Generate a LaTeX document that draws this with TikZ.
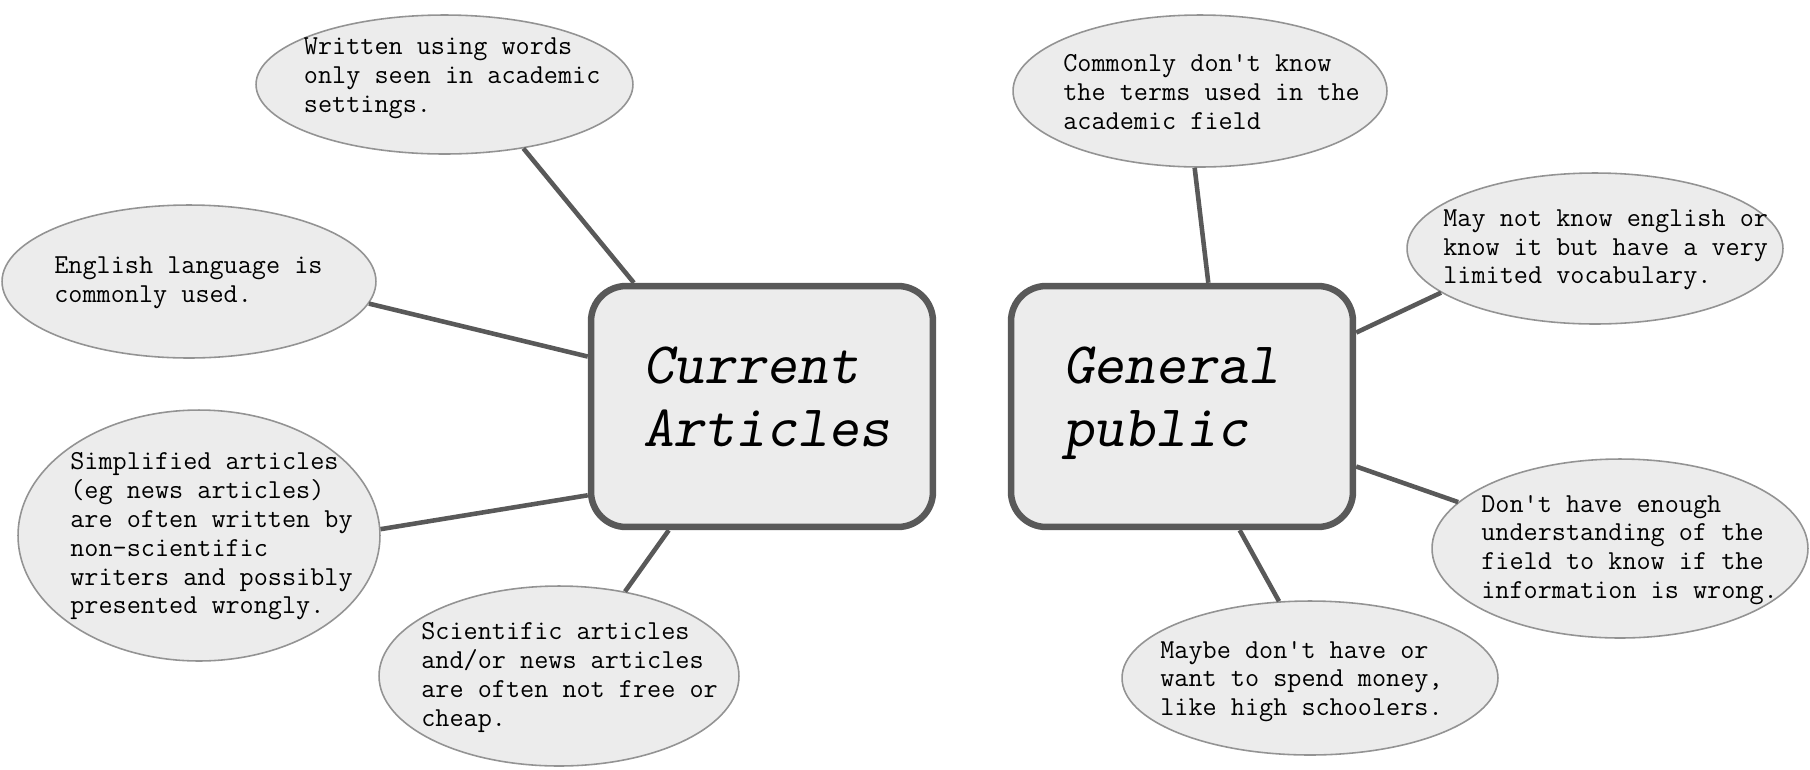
\documentclass[tikz,border=0pt]{standalone}
\usepackage{fontspec}
\usetikzlibrary{shapes.geometric}
\tikzset{
  bubble/.style={ellipse, draw=gray!85, line width=0.9pt, fill=gray!15, inner sep=0pt},
  note/.style={anchor=west, inner sep=0pt, align=left, text=black,
    font=\ttfamily\fontsize{15.6pt}{16.4pt}\selectfont},
  topic/.style={rectangle, rounded corners=20pt, draw=black!65, line width=3.7pt,
    fill=gray!15, minimum width=6.84cm, minimum height=4.82cm, inner xsep=1.04cm,
    text width=4.76cm, text depth=1.65cm, align=left, text=black,
    font=\ttfamily\slshape\fontsize{33.5pt}{35.7pt}\selectfont},
  link/.style={draw=black!65, line width=2.6pt}
}
\begin{document}
\begin{tikzpicture}[x=0.02cm, y=-0.02cm]
  \useasboundingbox (0,0) rectangle (1810,769);

  % the two topics
  \node[topic] (ca) at (762,406.5) {Current\\Articles};
  \node[topic] (gp) at (1182,406.5) {General\\public};

  % bubbles round Current Articles
  \node[bubble, minimum width=7.54cm, minimum height=2.78cm] (ca1) at (444.5,84.5) {};
  \node[bubble, minimum width=7.48cm, minimum height=3.06cm] (ca2) at (189,281.5) {};
  \node[bubble, minimum width=7.24cm, minimum height=5.02cm] (ca3) at (199,535.5) {};
  \node[bubble, minimum width=7.20cm, minimum height=3.60cm] (ca4) at (559,676) {};

  % bubbles round General public
  \node[bubble, minimum width=7.48cm, minimum height=3.04cm] (gp1) at (1200,91) {};
  \node[bubble, minimum width=7.52cm, minimum height=3.02cm] (gp2) at (1595,248.5) {};
  \node[bubble, minimum width=7.52cm, minimum height=3.58cm] (gp3) at (1620,548.5) {};
  \node[bubble, minimum width=7.52cm, minimum height=3.08cm] (gp4) at (1310,678) {};

  % texts in the bubbles
  \node[note] (ca1t) at (303.6,78.5) {Written using words\\only seen in academic\\settings.};
  \node[note] (ca2t) at (54,283) {English language is\\commonly used.};
  \node[note] (ca3t) at (70,536.5) {Simplified articles\\(eg news articles)\\are often written by\\non-scientific\\writers and possibly\\presented wrongly.};
  \node[note] (ca4t) at (421,677.5) {Scientific articles\\and/or news articles\\are often not free or\\cheap.};
  \node[note] (gp1t) at (1063,92.3) {Commonly don't know\\the terms used in the\\academic field};
  \node[note] (gp2t) at (1443,249.8) {May not know english or\\know it but have a very\\limited vocabulary.};
  \node[note] (gp3t) at (1481,550) {Don't have enough\\understanding of the\\field to know if the\\information is wrong.};
  \node[note] (gp4t) at (1160,681.5) {Maybe don't have or\\want to spend money,\\like high schoolers.};

  % connectors
  \draw[link] (ca1.-39) -- (ca.136);
  \draw[link] (ca2.-7) -- (ca.164);
  \draw[link] (ca3.2) -- (ca.207);
  \draw[link] (ca4.52) -- (ca.233);
  \draw[link] (gp1.266) -- (gp.78);
  \draw[link] (gp2.196) -- (gp.23.5);
  \draw[link] (gp3.164) -- (gp.-19);
  \draw[link] (gp4.112) -- (gp.-65);
\end{tikzpicture}
\end{document}
